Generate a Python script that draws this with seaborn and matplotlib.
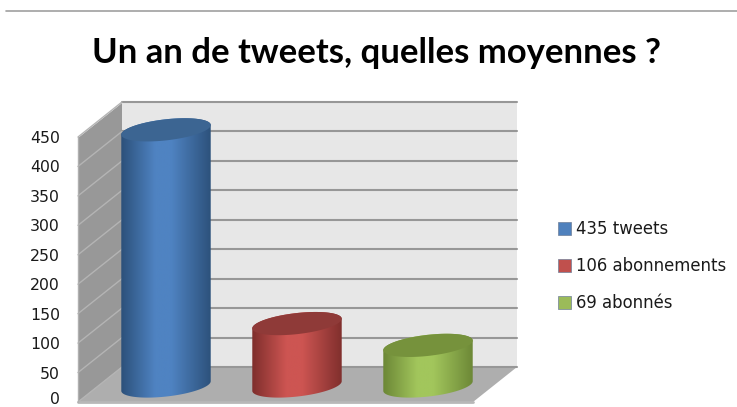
import numpy as np
import seaborn as sns
import matplotlib
matplotlib.use("Agg")
import matplotlib.pyplot as plt
from matplotlib.colors import LinearSegmentedColormap
from matplotlib.lines import Line2D
from matplotlib.patches import Patch, Polygon
from matplotlib.transforms import ScaledTranslation

sns.set_theme(style="white")
plt.rcParams["font.family"] = ["DejaVu Sans"]

categories = ["435 tweets", "106 abonnements", "69 abonnés"]
values = [435, 106, 69]
yticks = [0, 50, 100, 150, 200, 250, 300, 350, 400, 450]
title = "Un an de tweets, quelles moyennes ?"
body_mid = ["#4f83c2", "#cd5552", "#a2c65c"]
body_edge = ["#2b4f78", "#7c2d2b", "#6a8535"]
cap_col = ["#3c6592", "#8f3a38", "#76923c"]
legend_col = ["#4f81bd", "#c0504d", "#9bbb59"]

W, H = 737, 407
L, R, T, B = 78, 517, 103, 402        # pixel frame of the 3-D box
px_unit = (402 - 137) / 450           # px per value unit
px_cat = 131                          # px per category
x_cat0 = 166
depth_x, depth_y = 44 / px_cat, 35 / px_unit
base = 16 / px_unit                   # cylinders stand mid-depth
rx, ry, tilt = 45, 10.5, np.radians(6.5)

fig = plt.figure(figsize=(W / 100, H / 100), dpi=100, facecolor="white")
ax = fig.add_axes([L / W, 1 - B / H, (R - L) / W, (B - T) / H])
ax.patch.set_alpha(0)

sns.barplot(x=categories, y=values, hue=categories, palette=legend_col,
            width=90 / px_cat, legend=False, ax=ax, zorder=2)
bars = list(ax.patches)

xmin, xmax = (L - x_cat0) / px_cat, (R - x_cat0) / px_cat
ymax = (B - T) / px_unit
front_r = xmax - depth_x

# box: walls and floor
ax.add_patch(Polygon([(xmin, 0), (xmin + depth_x, depth_y), (xmin + depth_x, ymax), (xmin, ymax - depth_y)],
                     fc="#989898", ec="none", zorder=0))
ax.add_patch(Polygon([(xmin + depth_x, depth_y), (xmax, depth_y), (xmax, ymax), (xmin + depth_x, ymax)],
                     fc="#e7e7e7", ec="none", zorder=0))
ax.add_patch(Polygon([(xmin, 0), (front_r, 0), (xmax, depth_y), (xmin + depth_x, depth_y)],
                     fc="#aeaeae", ec="none", zorder=0))
for v in yticks:
    ax.plot([xmin + depth_x, xmax], [v + depth_y] * 2, color="#979797", lw=1.5, zorder=1, clip_on=False)
    ax.plot([xmin, xmin + depth_x], [v, v + depth_y], color="#b4b4b4", lw=1.0, zorder=1, clip_on=False)
ax.plot([xmin, front_r], [0, 0], color="#b8b8b8", lw=2, zorder=1, clip_on=False)
ax.plot([xmin, xmin], [0, 450], color="#b0b0b0", lw=1, zorder=1, clip_on=False)


def ellipse(cx, cy, t):
    ex = rx * np.cos(t) * np.cos(tilt) - ry * np.sin(t) * np.sin(tilt)
    ey = rx * np.cos(t) * np.sin(tilt) + ry * np.sin(t) * np.cos(tilt)
    return np.column_stack([cx + ex / px_cat, cy + ey / px_unit])


# cylinders built from the bars seaborn laid out
for i, bar in enumerate(bars):
    cx = bar.get_x() + bar.get_width() / 2
    h = bar.get_height()
    bar.set_facecolor("none")
    bar.set_edgecolor("none")
    y0, y1 = base, base + h
    lower = ellipse(cx, y0, np.linspace(np.pi, 2 * np.pi, 60))
    upper = ellipse(cx, y1, np.linspace(0, np.pi, 60))
    cmap = LinearSegmentedColormap.from_list(
        "c", [(0, body_edge[i]), (0.38, body_mid[i]), (0.55, body_mid[i]), (1, body_edge[i])], N=256)
    w = rx * 1.03 / px_cat
    im = ax.imshow(np.linspace(0, 1, 256)[None, :], cmap=cmap, aspect="auto",
                   extent=[cx - w, cx + w, y0 - 30, y1 + 30], zorder=3)
    im.set_clip_path(Polygon(np.vstack([lower, upper]), transform=ax.transData))
    ax.add_patch(Polygon(ellipse(cx, y1, np.linspace(0, 2 * np.pi, 120)),
                         fc=cap_col[i], ec="none", zorder=4))

ax.set_xlim(xmin, xmax)
ax.set_ylim(0, ymax)
ax.set_xticks([])
ax.set_xlabel("")
ax.set_ylabel("")
ax.set_yticks(yticks)
ax.set_yticklabels([str(v) for v in yticks], fontsize=11.3, color="#1a1a1a")
ax.tick_params(axis="y", length=0, pad=13)
ax.grid(False)
sns.despine(ax=ax, left=True, bottom=True, right=True, top=True)

zero = ax.get_yticklabels()[0]
zero.set_transform(zero.get_transform() + ScaledTranslation(0, 4 / 100, fig.dpi_scale_trans))

fig.text(376 / W, 1 - 53 / H, title, ha="center", va="center",
         fontsize=24.9, fontweight="bold", family="Lato", color="black")
fig.add_artist(Line2D([6 / W, 1], [1 - 11 / H] * 2, color="#a0a0a0", lw=1.2))

handles = [Patch(facecolor=c, edgecolor="#6f7f99", linewidth=0.5) for c in legend_col]
fig.legend(handles, categories, loc="upper left", bbox_to_anchor=(558 / W, 1 - 220 / H),
           bbox_transform=fig.transFigure, frameon=False, fontsize=11.9, labelcolor="#1a1a1a",
           handlelength=0.8, handleheight=0.8, handletextpad=0.28, labelspacing=1.15,
           borderpad=0, borderaxespad=0)

fig.savefig("out.png", dpi=100)
